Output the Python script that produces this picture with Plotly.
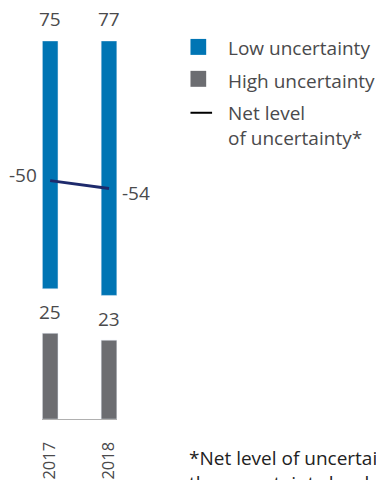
import plotly.graph_objects as go

years = ["2017", "2018"]
low_uncertainty = [75, 77]
high_uncertainty = [25, 23]
net_level = [-50, -54]
legend_labels = ["Low uncertainty", "High uncertainty", "Net level", "of uncertainty*"]
footnote = "*Net level of uncertainty is<br>the uncertainty level of low minus high"

W, H = 376, 480
BLUE = "#0075b4"
GREY = "#6c6d71"
NAVY = "#1e2a6c"
TXT = "#4a4a4c"
FONT = "Open Sans"
BW = 16 / 60  # bar width in category units

def py(p):
    return 1 - p / H

def px(p):
    return p / W

fig = go.Figure()
fig.add_trace(go.Bar(x=years, y=low_uncertainty, base=0, width=BW, marker_color=BLUE,
                     xaxis="x", yaxis="y", showlegend=False, hoverinfo="skip"))
fig.add_trace(go.Bar(x=years, y=high_uncertainty, width=BW, marker_color=GREY,
                     xaxis="x", yaxis="y2", showlegend=False, hoverinfo="skip"))
fig.add_trace(go.Scatter(x=years, y=net_level, mode="lines", line=dict(color=NAVY, width=3),
                         xaxis="x", yaxis="y3", showlegend=False, hoverinfo="skip"))

ann = []
for i, v in enumerate(low_uncertainty):
    ann.append(dict(x=i, y=0, xref="x", yref="y", text=str(v), showarrow=False,
                    yanchor="middle", yshift=22, font=dict(size=19, color=TXT, family=FONT)))
for i, v in enumerate(high_uncertainty):
    ann.append(dict(x=i, y=v, xref="x", yref="y2", text=str(v), showarrow=False,
                    yanchor="middle", yshift=21, font=dict(size=19, color=TXT, family=FONT)))
shifts = [(-27, 6), (27, -4)]
for i, (v, (xs, ys)) in enumerate(zip(net_level, shifts)):
    ann.append(dict(x=i, y=v, xref="x", yref="y3", text=str(v), showarrow=False,
                    xanchor="center", yanchor="middle", xshift=xs, yshift=ys,
                    font=dict(size=19, color=TXT, family=FONT)))

leg_y = [48, 81, 113, 138]
for lab, yy in zip(legend_labels, leg_y):
    ann.append(dict(x=px(225), y=py(yy), xref="paper", yref="paper", text=lab, showarrow=False,
                    xanchor="left", yanchor="middle", font=dict(size=19, color=TXT, family=FONT)))
ann.append(dict(x=px(185), y=py(444), xref="paper", yref="paper", text=footnote, showarrow=False,
                xanchor="left", yanchor="top", align="left",
                font=dict(size=19, color="#222222", family=FONT)))

shapes = [
    dict(type="rect", xref="paper", yref="paper", x0=px(189), x1=px(205), y0=py(55), y1=py(39),
         fillcolor=BLUE, line=dict(width=0)),
    dict(type="rect", xref="paper", yref="paper", x0=px(189), x1=px(205), y0=py(87), y1=py(71),
         fillcolor=GREY, line=dict(width=0)),
    dict(type="line", xref="paper", yref="paper", x0=px(189), x1=px(211), y0=py(113), y1=py(113),
         line=dict(color="#000000", width=2)),
]

fig.update_layout(
    width=W, height=H, autosize=False,
    margin=dict(l=0, r=0, t=0, b=0),
    paper_bgcolor="white", plot_bgcolor="rgba(0,0,0,0)",
    barmode="overlay",
    font=dict(family=FONT, color=TXT),
    xaxis=dict(domain=[px(38), px(114)], range=[-BW / 2, 1 + BW / 2], type="category",
               anchor="y2", showgrid=False, zeroline=False, showline=True, linecolor="#b0b0b0",
               linewidth=1.2, tickangle=-90, ticks="", ticklabelstandoff=15,
               tickfont=dict(size=16.5, color=TXT, family=FONT)),
    yaxis=dict(domain=[py(306), py(41)], range=[80, 0], visible=False),
    yaxis2=dict(domain=[py(420), py(320)], range=[0, 100 / 3.44], visible=False, anchor="x"),
    yaxis3=dict(overlaying="y", range=[-112.5, 20], visible=False, anchor="x"),
    annotations=ann, shapes=shapes,
)

fig.write_html("out.html")
